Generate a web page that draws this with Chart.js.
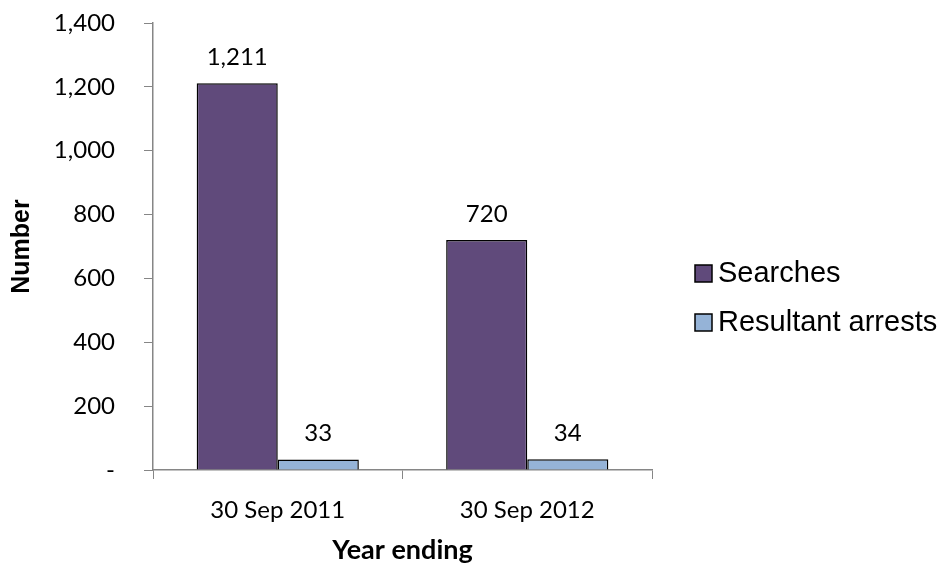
<!DOCTYPE html>
<html>
<head>
    <title>Searches and resultant arrests</title>
    <script src="https://cdn.jsdelivr.net/npm/chart.js@4/dist/chart.umd.min.js"></script>
    <style>
        * { margin: 0; padding: 0; }
        body { background: #fff; width: 939px; height: 566px; overflow: hidden; }
    </style>
</head>
<body>
    <canvas id="chart" width="939" height="566"></canvas>

    <script>
        // values
        const categories = ['30 Sep 2011', '30 Sep 2012'];
        const searches = [1211, 720];
        const arrests = [33, 34];
        const seriesNames = ['Searches', 'Resultant arrests'];
        const yTicks = [0, 200, 400, 600, 800, 1000, 1200, 1400];

        const axisGrey = '#868686';

        // value labels above each bar
        const barLabels = {
            id: 'barLabels',
            afterDatasetsDraw(chart) {
                const ctx = chart.ctx;
                ctx.save();
                ctx.font = '24px Lato';
                ctx.fillStyle = '#000';
                ctx.textAlign = 'center';
                ctx.textBaseline = 'middle';
                chart.data.datasets.forEach((ds, i) => {
                    chart.getDatasetMeta(i).data.forEach((bar, j) => {
                        ctx.fillText(ds.data[j].toLocaleString('en-US'), bar.x, bar.y - 26);
                    });
                });
                ctx.restore();
            }
        };

        // legend on the right, Excel style
        const sideLegend = {
            id: 'sideLegend',
            afterDraw(chart) {
                const ctx = chart.ctx;
                const area = chart.chartArea;
                const x = area.right + 43;
                const midY = (area.top + area.bottom) / 2 + 51;
                const rowGap = 49;
                ctx.save();
                ctx.font = '29px "Liberation Sans", Arial, sans-serif';
                ctx.textBaseline = 'middle';
                chart.data.datasets.forEach((ds, i) => {
                    const cy = midY + (i - 0.5) * rowGap;
                    ctx.fillStyle = ds.backgroundColor;
                    ctx.fillRect(x, cy - 8, 17, 17);
                    ctx.strokeStyle = '#000';
                    ctx.lineWidth = 1.5;
                    ctx.strokeRect(x, cy - 8, 17, 17);
                    ctx.fillStyle = '#000';
                    ctx.fillText(ds.label, x + 23, cy + 1);
                });
                ctx.restore();
            }
        };

        Chart.defaults.font.family = 'Lato';
        Chart.defaults.color = '#000';

        new Chart(document.getElementById('chart'), {
            type: 'bar',
            data: {
                labels: categories,
                datasets: [{
                    label: seriesNames[0],
                    data: searches,
                    backgroundColor: '#604a7b',
                    borderColor: '#000',
                    borderWidth: 1.5
                }, {
                    label: seriesNames[1],
                    data: arrests,
                    backgroundColor: '#95b3d7',
                    borderColor: '#000',
                    borderWidth: 1.5
                }]
            },
            options: {
                responsive: false,
                animation: false,
                devicePixelRatio: 1,
                layout: {
                    padding: { left: 0, top: 23, right: 287, bottom: 0 }
                },
                datasets: {
                    bar: { categoryPercentage: 0.65, barPercentage: 1.0 }
                },
                plugins: {
                    legend: { display: false },
                    tooltip: { enabled: false }
                },
                scales: {
                    x: {
                        afterFit(scale) { scale.height = 96; },
                        grid: {
                            offset: true,
                            drawOnChartArea: false,
                            drawTicks: true,
                            tickLength: 9,
                            color: axisGrey
                        },
                        border: { display: true, color: axisGrey, width: 1.5 },
                        ticks: { font: { size: 24 }, padding: 17 },
                        title: {
                            display: true,
                            text: 'Year ending',
                            font: { size: 27, weight: 'bold' },
                            padding: { top: 0, bottom: 0 }
                        }
                    },
                    y: {
                        min: 0,
                        max: 1400,
                        afterFit(scale) {
                            scale.width = 153;
                            // tick padding otherwise pushes the plot down
                            scale.paddingTop = 0;
                            scale.paddingBottom = 0;
                        },
                        afterBuildTicks(scale) {
                            scale.ticks = yTicks.map(v => ({ value: v }));
                        },
                        grid: {
                            drawOnChartArea: false,
                            drawTicks: true,
                            tickLength: 9,
                            color: axisGrey
                        },
                        border: { display: true, color: axisGrey, width: 1.5 },
                        ticks: {
                            font: { size: 24 },
                            padding: 29,
                            callback: v => v === 0 ? '-' : v.toLocaleString('en-US')
                        },
                        title: {
                            display: true,
                            text: 'Number',
                            font: { family: '"Liberation Sans", Arial, sans-serif', size: 25, weight: 'bold' },
                            padding: { top: 7, bottom: 0 }
                        }
                    }
                }
            },
            plugins: [barLabels, sideLegend]
        });
    </script>
</body>
</html>
